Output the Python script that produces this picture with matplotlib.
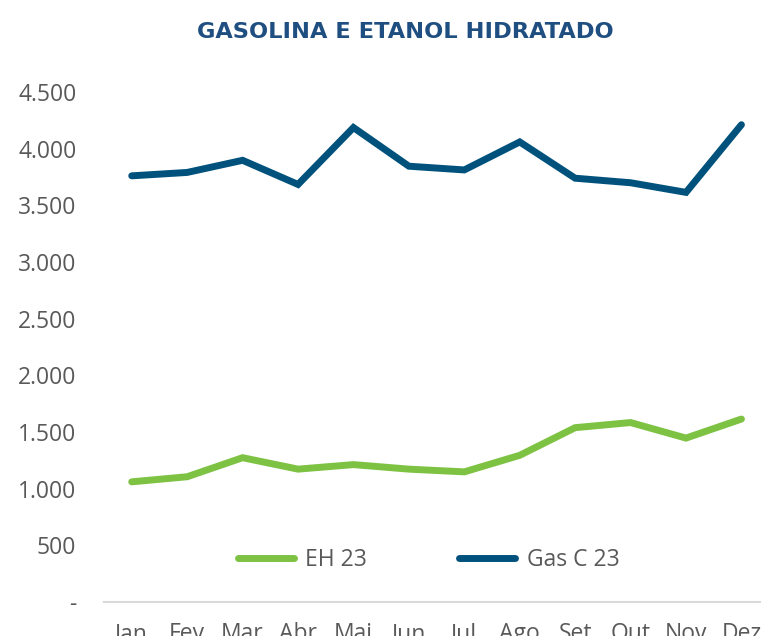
"""
Gasolina e etanol hidratado, 2023 monthly lines
"""
# import packages
import matplotlib
matplotlib.use('Agg')
import matplotlib.pyplot as plt
from matplotlib.ticker import FuncFormatter


# ###
# 1.Data
# ###
MONTH_LIST = ['Jan', 'Fev', 'Mar', 'Abr', 'Mai', 'Jun',
              'Jul', 'Ago', 'Set', 'Out', 'Nov', 'Dez']
EH_23      = [1060, 1105, 1273, 1172, 1212, 1172, 1148, 1294, 1538, 1583, 1446, 1614]
GAS_C_23   = [3760, 3790, 3897, 3684, 4186, 3845, 3812, 4059, 3739, 3699, 3614, 4211]
Y_TICKS    = [0, 500, 1000, 1500, 2000, 2500, 3000, 3500, 4000, 4500]
TITLE_TEXT = 'GASOLINA E ETANOL HIDRATADO'


# ###
# 2.Figure variables
# ###
COLOR_EH        = '#7dc242'
COLOR_GAS       = '#00527c'
COLOR_TITLE     = '#1f4e80'
COLOR_TEXT      = '#595959'
COLOR_AXIS      = '#d9d9d9'
PLOT_LINE_WIDTH = 5
PLOT_X_SIZE     = 7.61
PLOT_Y_SIZE     = 6.36
PLOT_DPI        = 100
FONT_TEXT       = 'Open Sans'
FONT_SIZE       = 16.5


def thousand_fmt(v, pos):
    if v == 0:
        return '-'
    return '{0:,.0f}'.format(v).replace(',', '.')


def draw_figure(image_path):
    fig = plt.figure(figsize=(PLOT_X_SIZE, PLOT_Y_SIZE), dpi=PLOT_DPI, facecolor='w')
    ax = fig.add_axes([0.1367, 0.0535, 0.874, 0.8019])

    x = list(range(len(MONTH_LIST)))
    ax.plot(x, EH_23, color=COLOR_EH, linewidth=PLOT_LINE_WIDTH,
            solid_capstyle='round', solid_joinstyle='miter', label='EH 23')
    ax.plot(x, GAS_C_23, color=COLOR_GAS, linewidth=PLOT_LINE_WIDTH,
            solid_capstyle='round', solid_joinstyle='miter', label='Gas C 23')

    # axis setting
    ax.set_xlim(-0.5, len(MONTH_LIST) - 0.5)
    ax.set_ylim(0, 4500)
    ax.set_yticks(Y_TICKS)
    ax.yaxis.set_major_formatter(FuncFormatter(thousand_fmt))
    ax.set_xticks(x)
    ax.set_xticklabels(MONTH_LIST)
    for side in ['top', 'right', 'left']:
        ax.spines[side].set_visible(False)
    ax.spines['bottom'].set_color(COLOR_AXIS)
    ax.spines['bottom'].set_linewidth(1.5)
    ax.tick_params(axis='y', length=0, pad=20, labelsize=FONT_SIZE, labelcolor=COLOR_TEXT)
    ax.tick_params(axis='x', length=0, pad=14.5, labelsize=FONT_SIZE, labelcolor=COLOR_TEXT)
    for lbl in ax.get_xticklabels() + ax.get_yticklabels():
        lbl.set_fontfamily(FONT_TEXT)

    # legend
    leg = ax.legend(loc='center', bbox_to_anchor=(0.488, 0.082), ncol=2, frameon=False,
                    prop={'family': FONT_TEXT, 'size': FONT_SIZE},
                    handlelength=2.45, handletextpad=0.5, columnspacing=4.0)
    for t in leg.get_texts():
        t.set_color(COLOR_TEXT)

    # title
    fig.text(0.532, 0.95, TITLE_TEXT, ha='center', va='center', color=COLOR_TITLE,
             fontsize=16.2, fontweight='bold', family='DejaVu Sans')

    plt.savefig(image_path, dpi=PLOT_DPI)
    plt.close(fig)


def main_function():
    draw_figure('out.png')


if __name__ == '__main__':
    main_function()
